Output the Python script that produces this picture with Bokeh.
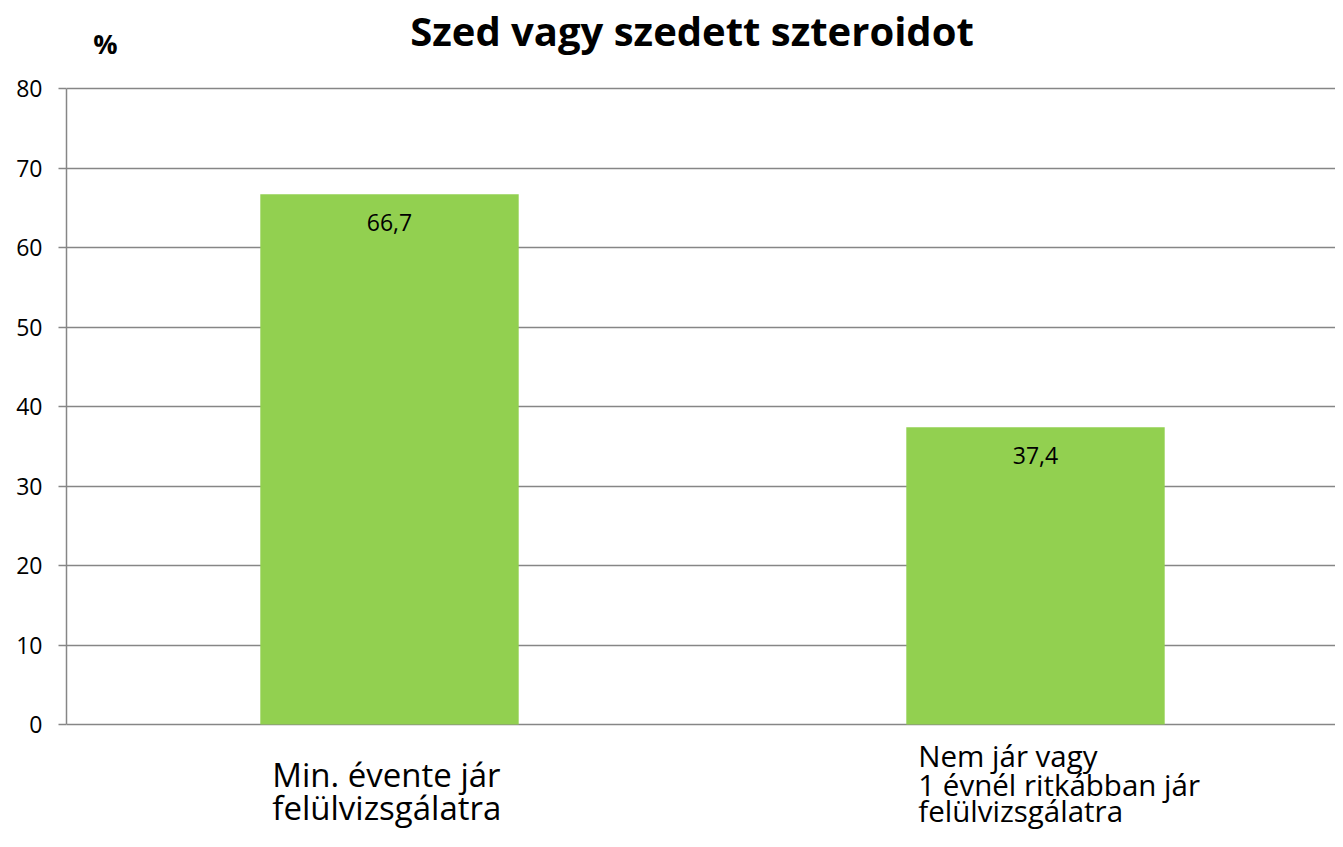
from bokeh.plotting import figure
from bokeh.models import ColumnDataSource, Range1d, FixedTicker, Label
from bokeh.core.properties import value
from bokeh.embed import file_html
from bokeh.resources import INLINE

# ---- data ----
categories = ["Min. évente jár\nfelülvizsgálatra",
              "Nem jár vagy\n1 évnél ritkábban jár\nfelülvizsgálatra"]
values = [66.7, 37.4]
y_ticks = [0, 10, 20, 30, 40, 50, 60, 70, 80]
title_text = "Szed vagy szedett szteroidot"
unit_text = "%"

FONT = "Open Sans"
GREEN = "#92D050"
GRID = "#868686"

xpos = [i + 0.5 for i in range(len(categories))]
labels = [f"{v:.1f}".replace(".", ",") for v in values]
src = ColumnDataSource(dict(x=xpos, top=values, label=labels))

W, H = 1335, 831
left = 66
frame_w = W - left
unit_px = 646.0
y0_px = 724               # pixel row of y=0 from the top
y80_px = 88               # pixel row of y=80 from the top
ppu = (y0_px - y80_px) / 80.0
y_lo = -(H - y0_px) / ppu
y_hi = 80 + y80_px / ppu

p = figure(width=W, height=H, output_backend="svg", toolbar_location=None,
           x_range=Range1d(0, frame_w / unit_px), y_range=Range1d(y_lo, y_hi),
           x_axis_type=None, min_border_left=left, min_border_right=0,
           min_border_top=0, min_border_bottom=0)
p.outline_line_color = None
p.background_fill_color = "white"
p.border_fill_color = "white"

p.vbar(x="x", top="top", width=0.4, bottom=0, source=src,
       fill_color=GREEN, line_color=None)
p.text(x="x", y="top", text="label", source=src, text_align="center",
       text_baseline="middle", y_offset=28, text_font=value(FONT),
       text_font_size="23px", text_color="black")

yax = p.yaxis[0]
yax.ticker = FixedTicker(ticks=y_ticks)
yax.bounds = (0, 80)
yax.axis_line_color = GRID
yax.axis_line_width = 1.5
yax.major_tick_line_color = GRID
yax.major_tick_line_width = 1.5
yax.major_tick_out = 8
yax.major_tick_in = 0
yax.minor_tick_line_color = None
yax.major_label_text_font = FONT
yax.major_label_text_font_size = "23px"
yax.major_label_text_color = "black"
yax.major_label_standoff = 16

p.ygrid.ticker = FixedTicker(ticks=y_ticks)
p.ygrid.grid_line_color = GRID
p.ygrid.grid_line_width = 1.5
p.xgrid.visible = False

def ydat(py, fs):
    # Bokeh draws an "alphabetic" Label about 0.28em lower than its anchor
    return (y0_px - (py - 0.28 * fs)) / ppu

# title and unit
p.add_layout(Label(x=(691.5 - left) / unit_px, y=ydat(41, 40), text=title_text,
                   text_font=FONT, text_font_size="40px", text_font_style="bold",
                   text_align="center", text_baseline="alphabetic", text_color="black"))
p.add_layout(Label(x=(105 - left) / unit_px, y=ydat(51, 27), text=unit_text,
                   text_font=FONT, text_font_size="27px", text_font_style="bold",
                   text_align="center", text_baseline="alphabetic", text_color="black"))

# category labels (left-aligned under bars)
cat_styles = [([783, 816], 33), ([763, 792, 818], 29.5)]
for i, cat in enumerate(categories):
    lines = cat.split("\n")
    baselines, fs = cat_styles[i]
    for ln, b in zip(lines, baselines):
        p.add_layout(Label(x=xpos[i] - 0.2, x_offset=12, y=ydat(b, fs),
                           text=ln, text_font=FONT, text_font_size=f"{fs}px",
                           text_align="left", text_baseline="alphabetic",
                           text_color="black"))

open("out.html", "w").write(file_html(p, INLINE))
